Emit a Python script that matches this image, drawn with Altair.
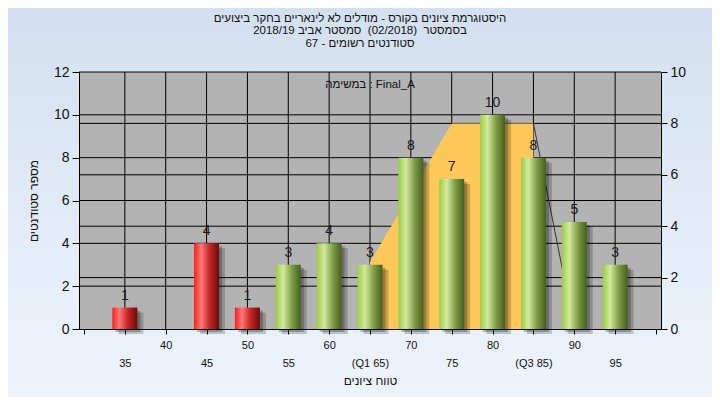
import altair as alt
import pandas as pd

# ---------------- data ----------------
categories = [35, 40, 45, 50, 55, 60, 65, 70, 75, 80, 85, 90, 95]
counts = [1, 0, 4, 1, 3, 4, 3, 8, 7, 10, 8, 5, 3]
pass_mark = 55

band_x = [65, 75, 85]          # orange inter-quartile band (right axis units)
band_y = [2.6, 8, 8]
drop_x = [85, 90]              # thin dark line (right axis units)
drop_y = [8, 0]

left_ticks = [0, 2, 4, 6, 8, 10, 12]
right_ticks = [0, 2, 4, 6, 8, 10]
x_ticks = [30, 35, 40, 45, 50, 55, 60, 65, 70, 75, 80, 85, 90, 95, 100]
grid_x = [35, 40, 45, 50, 55, 60, 65, 70, 75, 80, 85, 90, 95]
grid_left = [2, 4, 6, 8, 10, 12]
grid_right = [2, 4, 6, 8]

title_lines = [
    "היסטוגרמת ציונים בקורס - מודלים לא לינאריים בחקר ביצועים",
    "בסמסטר\u00a0\u00a0(02/2018)\u00a0\u00a0סמסטר אביב 2018/19",
    "סטודנטים רשומים - 67",
]
y_title = "מספר סטודנטים"
x_title = "טווח ציונים"
note = "במשימה : Final_A"

# ---------------- layout / style ----------------
W, H = 582, 257
PL, PT, PR, PB = 71, 64, 51, 68
FONT = "Liberation Sans, Arial, DejaVu Sans, sans-serif"

bars_df = pd.DataFrame({"x": categories, "count": counts})
bars_df["grp"] = ["fail" if c < pass_mark else "pass" for c in categories]
labels_df = bars_df[bars_df["count"] > 0]
band_df = pd.DataFrame({"x": band_x, "v": band_y})
drop_df = pd.DataFrame({"x": drop_x, "v": drop_y})
gx_df = pd.DataFrame({"x": grid_x})
gl_df = pd.DataFrame({"v": grid_left})
gr_df = pd.DataFrame({"v": grid_right})
one = pd.DataFrame({"t": [note]})

xscale = alt.Scale(domain=[30, 100], nice=False, zero=False)
lscale = alt.Scale(domain=[0, 12], nice=False)
rscale = alt.Scale(domain=[0, 10], nice=False)

x_axis = alt.Axis(
    values=x_ticks,
    labelExpr="datum.value == 65 ? '(Q1 65)' : datum.value == 85 ? '(Q3 85)' : "
              "(datum.value == 30 || datum.value == 100) ? '' : datum.label",
    labelPadding=alt.condition("datum.value % 10 == 0", alt.value(5), alt.value(23)),
    labelOverlap=False, labelFlush=False,
    tickSize=5, tickColor="black", domainColor="black", grid=False,
    labelFontSize=11, labelFont=FONT, labelColor="#111",
    title=x_title, titleFont=FONT, titleFontSize=12, titleFontWeight="normal",
    titleColor="#111", titleY=51, titleBaseline="middle", zindex=1,
)
X = alt.X("x:Q", scale=xscale, axis=x_axis)

left_axis = alt.Axis(
    orient="left", values=left_ticks, tickSize=7, labelPadding=3,
    tickColor="black", domainColor="black", grid=False,
    labelFontSize=14, labelFont=FONT, labelColor="#111",
    title=y_title, titleFont=FONT, titleFontSize=12, titleFontWeight="normal",
    titleColor="#111", titleX=-46, titleBaseline="middle", zindex=1,
)
right_axis = alt.Axis(
    orient="right", values=right_ticks, tickSize=6, labelPadding=3,
    tickColor="black", domainColor="black", grid=False,
    labelFontSize=14, labelFont=FONT, labelColor="#111", title=None, zindex=1,
)

def grad(stops):
    return alt.Gradient(
        gradient="linear",
        stops=[alt.GradientStop(color=c, offset=o) for o, c in stops],
        x1=0, x2=1, y1=0, y2=0,
    )

red = grad([(0, "#ff1c1c"), (0.28, "#ff7a7a"), (0.62, "#c42626"), (1, "#6a0c0c")])
green = grad([(0, "#9dcc43"), (0.3, "#d2eaa0"), (0.65, "#7d9c45"), (1, "#44601b")])
bg = alt.Gradient(
    gradient="linear",
    stops=[alt.GradientStop(color="#d3e0f1", offset=0),
           alt.GradientStop(color="#eef4fc", offset=1)],
    x1=0, x2=0, y1=0, y2=1,
)

background = alt.Chart(one).mark_rect(color=bg).encode(
    x=alt.value(-PL), x2=alt.value(W + PR), y=alt.value(-PT), y2=alt.value(H + PB)
)
plot_bg = alt.Chart(one).mark_rect(color="#b3b3b3").encode(
    x=alt.value(0), x2=alt.value(W), y=alt.value(0), y2=alt.value(H)
)
vgrid = alt.Chart(gx_df).mark_rule(color="black", strokeWidth=1).encode(
    x=X, y=alt.value(0), y2=alt.value(H)
)
hgrid_l = alt.Chart(gl_df).mark_rule(color="black", strokeWidth=1).encode(
    y=alt.Y("v:Q", scale=lscale, axis=None), x=alt.value(0), x2=alt.value(W)
)
hgrid_r = alt.Chart(gr_df).mark_rule(color="black", strokeWidth=1).encode(
    y=alt.Y("v:Q", scale=rscale, axis=None), x=alt.value(0), x2=alt.value(W)
)
band = alt.Chart(band_df).mark_area(color="#fec95a", opacity=1).encode(
    x=X, y=alt.Y("v:Q", scale=rscale, axis=right_axis)
)
drop = alt.Chart(drop_df).mark_line(color="#333333", strokeWidth=1).encode(
    x=X, y=alt.Y("v:Q", scale=rscale, axis=None)
)
shadow1 = alt.Chart(bars_df).mark_bar(
    color="black", opacity=0.2, size=25, xOffset=6, yOffset=5, y2Offset=5
).encode(x=X, y=alt.Y("count:Q", scale=lscale, axis=None))
shadow2 = alt.Chart(bars_df).mark_bar(
    color="black", opacity=0.25, size=25, xOffset=3, yOffset=3, y2Offset=3
).encode(x=X, y=alt.Y("count:Q", scale=lscale, axis=None))
bars_red = alt.Chart(bars_df).transform_filter("datum.grp == 'fail'").mark_bar(
    color=red, size=25
).encode(x=X, y=alt.Y("count:Q", scale=lscale, axis=left_axis))
bars_green = alt.Chart(bars_df).transform_filter("datum.grp == 'pass'").mark_bar(
    color=green, size=25
).encode(x=X, y=alt.Y("count:Q", scale=lscale, axis=None))
labels = alt.Chart(labels_df).mark_text(
    fontSize=14, font=FONT, color="#1a1a1a", baseline="alphabetic", dy=-8
).encode(x=X, y=alt.Y("count:Q", scale=lscale, axis=None), text="count:Q")
annot = alt.Chart(one).mark_text(
    fontSize=11.5, font=FONT, color="#111", baseline="middle", align="center"
).encode(x=alt.value(W / 2), y=alt.value(13), text="t:N")

chart = alt.layer(
    background, plot_bg, vgrid, hgrid_l, hgrid_r, band, drop,
    shadow1, shadow2, bars_red, bars_green, labels, annot,
).resolve_scale(y="independent").properties(
    width=W, height=H,
    autosize=alt.AutoSizeParams(type="none"),
    padding={"left": PL, "top": PT, "right": PR, "bottom": PB},
    title=alt.Title(text=title_lines, fontSize=11.5, font=FONT, fontWeight="normal",
                    color="#111", anchor="middle", dx=-10, offset=-41,
                    lineHeight=12.5),
).configure_view(stroke=None)

chart.save("out.html", embed_options={"renderer": "svg", "actions": False})
